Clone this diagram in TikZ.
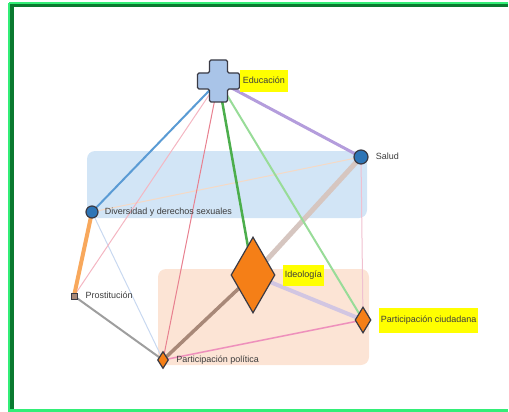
\documentclass[tikz,border=0pt]{standalone}
\usepackage{fontspec}
\setmainfont{Liberation Sans}
\usetikzlibrary{positioning,shapes.geometric}

\definecolor{verdeclaro}{HTML}{33EE77}
\definecolor{verdeoscuro}{HTML}{0A7A30}
\definecolor{azulcaja}{HTML}{D2E5F6}
\definecolor{naranjacaja}{HTML}{FCE4D5}
\definecolor{azulcruz}{HTML}{A9C4E8}
\definecolor{azulnodo}{HTML}{2E75B6}
\definecolor{naranjanodo}{HTML}{F57F17}
\definecolor{borde}{HTML}{3A3A44}
\definecolor{texto}{HTML}{3C3C3C}
\definecolor{resaltado}{HTML}{FFFF00}
% colores de las aristas
\definecolor{azularista}{HTML}{5A9BD4}
\definecolor{rosaclaro}{HTML}{F4B6C2}
\definecolor{rosa}{HTML}{E8808F}
\definecolor{verde}{HTML}{4CAE4C}
\definecolor{verdepalido}{HTML}{98DC98}
\definecolor{lila}{HTML}{B49DDC}
\definecolor{durazno}{HTML}{F5D9C5}
\definecolor{taupe}{HTML}{D6C6C0}
\definecolor{rosapalido}{HTML}{F0C0D0}
\definecolor{cafe}{HTML}{A88878}
\definecolor{lavanda}{HTML}{D2C6E2}
\definecolor{rosafuerte}{HTML}{EE90BC}
\definecolor{naranja}{HTML}{F8A85C}
\definecolor{celeste}{HTML}{C8D8F0}
\definecolor{gris}{HTML}{9E9E9E}

\pgfdeclarelayer{fondo}
\pgfdeclarelayer{aristas}
\pgfsetlayers{fondo,aristas,main}

\tikzset{
	etiqueta/.style={font=\fontsize{9}{10}\selectfont, text=texto, inner sep=0pt, text height=7pt, text depth=2pt},
	marcado/.style={etiqueta, fill=resaltado, inner xsep=2pt, inner ysep=6pt},
	circulo/.style={circle, draw=borde, line width=1.2pt, fill=azulnodo, inner sep=0pt},
	rombo/.style={diamond, draw=borde, line width=1.2pt, fill=naranjanodo, inner sep=0pt},
}

\begin{document}
\begin{tikzpicture}[x=1pt, y=-1pt]
\useasboundingbox (0,0) rectangle (509,412);

% Marco
\draw[verdeclaro, line width=1.5pt] (9,3) -- (508,3);
\draw[verdeclaro, line width=2.5pt] (9,3) -- (9,412);
\draw[verdeclaro, line width=3pt] (9,410.5) -- (508,410.5);
\draw[verdeoscuro, line width=3.5pt] (11.8,409) -- (11.8,5.5) -- (508,5.5);

% Nodos
\node[minimum size=42pt, inner sep=0pt] (edu) at (218.5,81) {};
\draw[draw=borde, line width=1.2pt, fill=azulcruz, rounded corners=1.5pt]
	([shift={(-9,-21)}]edu.center) -- ++(18,0) -- ++(0,13) -- ++(12,0) -- ++(0,16) -- ++(-12,0)
	-- ++(0,13) -- ++(-18,0) -- ++(0,-13) -- ++(-12,0) -- ++(0,-16) -- ++(12,0) -- cycle;

\node[circulo, minimum size=14pt] (sal) at (361,157) {};
\node[circulo, minimum size=12pt] (div) at (92,212) {};
\node[rombo, minimum width=44pt, minimum height=76pt] (ide) at (253,275) {};
\node[rombo, minimum width=16pt, minimum height=26pt] (ciu) at (363,320) {};
\node[rombo, minimum width=11pt, minimum height=17pt] (pol) at (163,360) {};
\node[draw=borde, line width=1pt, fill=cafe, minimum size=6pt, inner sep=0pt] (pro) at (74,296) {};

% Etiquetas
\node[marcado, right=0pt of edu, inner xsep=3pt, inner ysep=6.5pt] (edu-t) {Educación};
\node[etiqueta, right=7pt of sal] (sal-t) {Salud};
\node[etiqueta, right=6pt of div] (div-t) {Diversidad y derechos sexuales};
\node[marcado, right=7pt of ide] (ide-t) {Ideología};
\node[marcado, right=7pt of ciu, inner ysep=8pt] (ciu-t) {Participación ciudadana};
\node[etiqueta, right=7pt of pol] (pol-t) {Participación política};
\node[etiqueta, right=8pt of pro] (pro-t) {Prostitución};

% Grupos
\begin{pgfonlayer}{fondo}
	\fill[azulcaja, rounded corners=8pt] (87,151) rectangle (367,218);
	\fill[naranjacaja, rounded corners=8pt] (158,269) rectangle (369,365);
\end{pgfonlayer}

% Conexiones
\begin{pgfonlayer}{aristas}
	\foreach \a/\b/\c/\w in {sal/div/durazno/1pt, sal/ciu/rosapalido/1pt, div/pol/celeste/1pt,
		edu/pro/rosaclaro/1pt, edu/pol/rosa/1pt, pol/ciu/rosafuerte/1.5pt,
		pro/pol/gris/2pt, div/pro/naranja/4pt, sal/ide/taupe/5pt, ide/pol/cafe/3.5pt,
		ide/ciu/lavanda/4pt, edu/div/azularista/2pt, edu/ciu/verdepalido/2pt,
		edu/ide/verde/2.5pt, edu/sal/lila/3pt}
		\draw[\c, line width=\w] (\a.center) -- (\b.center);
\end{pgfonlayer}
\end{tikzpicture}
\end{document}
